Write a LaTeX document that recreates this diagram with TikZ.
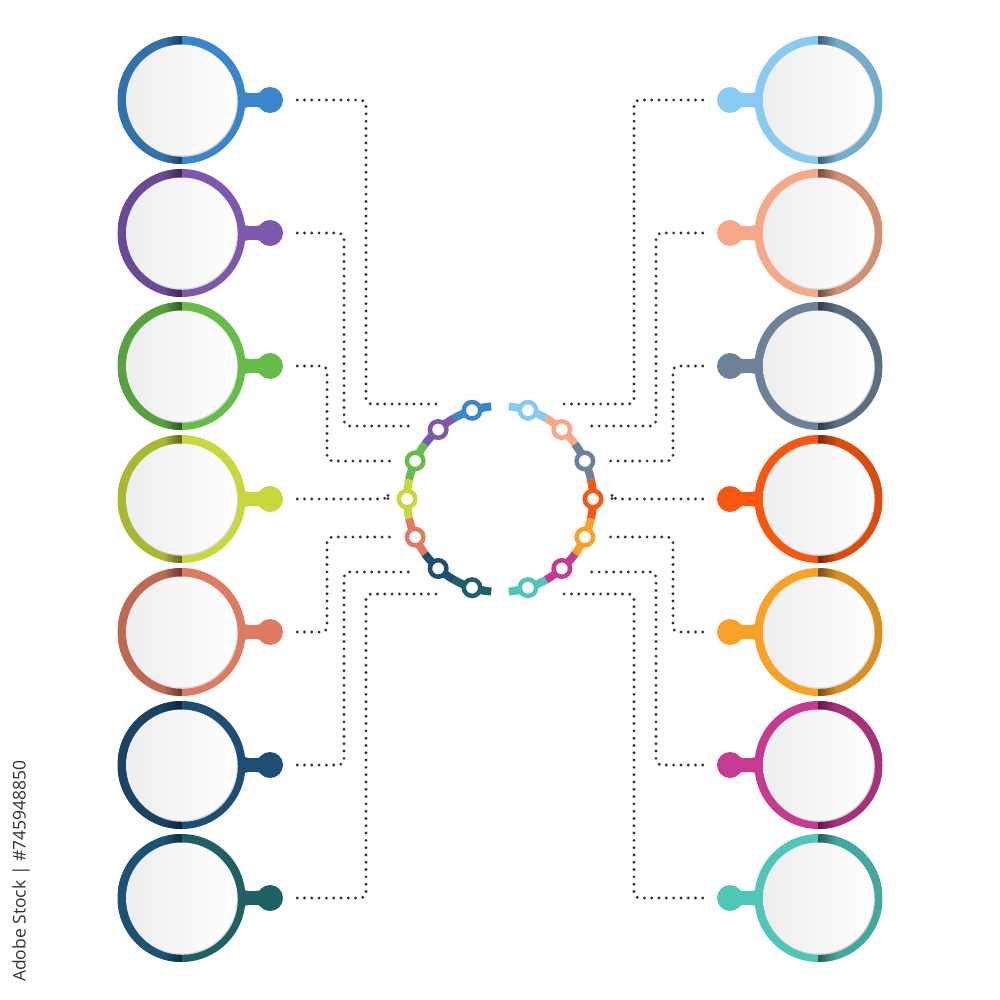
\documentclass[tikz,border=0pt]{standalone}
\usepackage{fontspec}
\setmainfont{Open Sans}
\usetikzlibrary{calc}
\definecolor{cL1}{HTML}{3A86CB}
\definecolor{cL2}{HTML}{7E57AF}
\definecolor{cL3}{HTML}{66BD4A}
\definecolor{cL4}{HTML}{C8D83A}
\definecolor{cL5}{HTML}{DF7B63}
\definecolor{cL6}{HTML}{1E4E74}
\definecolor{cL7}{HTML}{1F6063}
\definecolor{tL7}{HTML}{1C5274}
\definecolor{cR1}{HTML}{88CAF0}
\definecolor{cR2}{HTML}{F7A886}
\definecolor{cR3}{HTML}{6D8198}
\definecolor{cR4}{HTML}{F9570F}
\definecolor{cR5}{HTML}{F9A225}
\definecolor{cR6}{HTML}{C63A92}
\definecolor{cR7}{HTML}{4FC7B8}
\begin{document}
\begin{tikzpicture}[x=1pt,y=-1pt]
\def\ro{64}
\def\ri{55.5}
\def\gap{133}
\def\hr{93}
\tikzset{
	knob/.style={circle,inner sep=0,minimum size=26},
	ring/.style={circle,inner sep=0,minimum size=2*\ro},
	hubdot/.style={circle,draw=#1,fill=white,line width=4.5,inner sep=0,minimum size=16.5},
	link/.style={line width=8},
	dotline/.style={draw=black!80,line width=3.2,line cap=round,dash pattern=on 0pt off 7.3pt,rounded corners=5}
}
\useasboundingbox (0,0) rectangle (1000,1000);
\fill[white] (0,0) rectangle (1000,1000);
\coordinate (hub) at (500,499);
\def\leftrings{cL1/cL1!85!black,cL2/cL2!85!black,cL3/cL3!85!black,cL4/cL4!85!black,cL5/cL5!85!black,cL6/cL6!85!black,cL7/tL7}
\def\rightrings{cR1/cR1!85!black,cR2/cR2!85!black,cR3/cR3!85!black,cR4/cR4!88!black,cR5/cR5!88!black,cR6/cR6!85!black,cR7/cR7!85!black}
\foreach \col/\dk [count=\i] in \leftrings
{
	\pgfmathsetmacro\yy{100+\gap*(\i-1)}
	\fill[\col] (236,\yy-12) .. controls (246,\yy-6) and (252,\yy-6) .. (262,\yy-8) -- (262,\yy+8) .. controls (252,\yy+6) and (246,\yy+6) .. (236,\yy+12) -- cycle;
	\node[knob,fill=\col] (kL\i) at (270,\yy) {};
	\node[ring,fill=\col] (L\i) at (181.5,\yy) {};
	\begin{scope}
		\clip (L\i) circle (\ro);
		\fill[\dk] ($(L\i)+(-\ro,-\ro)$) rectangle ($(L\i)+(-18,\ro)$);
		\shade[left color=\dk,right color=\dk!55!black] ($(L\i)+(-18.2,-\ro)$) rectangle ($(L\i)+(0,\ro)$);
	\end{scope}
	\fill[black!15] ($(L\i)+(0.8,1.3)$) circle (\ri);
	\shade[left color=black!7,right color=white] (L\i) circle (\ri);
}
\foreach \col/\dk [count=\i] in \rightrings
{
	\pgfmathsetmacro\yy{100+\gap*(\i-1)}
	\fill[\col] (764,\yy-12) .. controls (754,\yy-6) and (748,\yy-6) .. (738,\yy-8) -- (738,\yy+8) .. controls (748,\yy+6) and (754,\yy+6) .. (764,\yy+12) -- cycle;
	\node[knob,fill=\col] (kR\i) at (730,\yy) {};
	\node[ring,fill=\col] (R\i) at (818.5,\yy) {};
	\begin{scope}
		\clip (R\i) circle (\ro);
		\fill[\dk] ($(R\i)+(18,-\ro)$) rectangle ($(R\i)+(\ro,\ro)$);
		\shade[left color=\dk!55!black,right color=\dk] ($(R\i)+(0,-\ro)$) rectangle ($(R\i)+(18.2,\ro)$);
	\end{scope}
	\fill[black!15] ($(R\i)+(0.8,1.3)$) circle (\ri);
	\shade[left color=black!7,right color=white] (R\i) circle (\ri);
}
\foreach \col [count=\i] in {cL1,cL2,cL3,cL4,cL5,cL6,cL7}
{
	\pgfmathsetmacro\a{252.5-24.17*(\i-1)}
	\draw[link,\col] ($(hub)+(\a+12.08:\hr)$) arc[start angle=\a+12.08,end angle=\a-12.08,radius=\hr];
}
\foreach \col [count=\i] in {cR1,cR2,cR3,cR4,cR5,cR6,cR7}
{
	\pgfmathsetmacro\a{-72.5+24.17*(\i-1)}
	\draw[link,\col] ($(hub)+(\a-12.08:\hr)$) arc[start angle=\a-12.08,end angle=\a+12.08,radius=\hr];
}
\draw[link,cL1,line cap=round] ($(hub)+(252.5:\hr)$) arc[start angle=252.5,end angle=260,radius=\hr];
\draw[link,cL7,line cap=round] ($(hub)+(107.5:\hr)$) arc[start angle=107.5,end angle=100,radius=\hr];
\draw[link,cR1,line cap=round] ($(hub)+(-72.5:\hr)$) arc[start angle=-72.5,end angle=-80,radius=\hr];
\draw[link,cR7,line cap=round] ($(hub)+(72.5:\hr)$) arc[start angle=72.5,end angle=80,radius=\hr];
\foreach \col [count=\i] in {cL1,cL2,cL3,cL4,cL5,cL6,cL7}
{
	\pgfmathsetmacro\a{252.5-24.17*(\i-1)}
	\node[hubdot=\col] (sL\i) at ($(hub)+(\a:\hr)$) {};
}
\foreach \col [count=\i] in {cR1,cR2,cR3,cR4,cR5,cR6,cR7}
{
	\pgfmathsetmacro\a{-72.5+24.17*(\i-1)}
	\node[hubdot=\col] (sR\i) at ($(hub)+(\a:\hr)$) {};
}
\def\dots{366/437/404,344/415/426,327/390/461,388/388/499,327/392/537,344/415/572,366/437/594}
\foreach \cx/\ex/\ey [count=\i] in \dots
{
	\coordinate (eL\i) at (\ex,\ey);
	\coordinate (vL\i) at (\cx,\ey);
	\coordinate (eR\i) at (1000-\ex,\ey);
	\coordinate (vR\i) at (1000-\cx,\ey);
	\draw[dotline] ($(kL\i.east)+(14,0)$) -| (vL\i) -- (eL\i);
	\draw[dotline] ($(kR\i.west)+(-14,0)$) -| (vR\i) -- (eR\i);
}
\node[rotate=90,anchor=west,inner sep=0,text=black!80,font=\fontsize{17.5}{17.5}\selectfont] (stock) at (21,982) {Adobe Stock | \#745948850};
\end{tikzpicture}
\end{document}
